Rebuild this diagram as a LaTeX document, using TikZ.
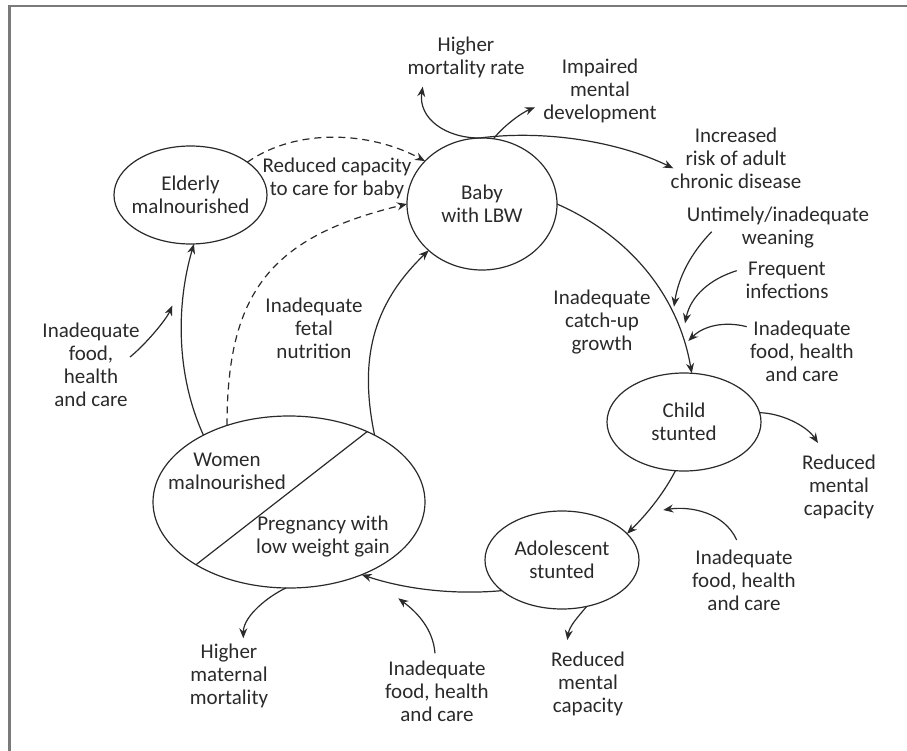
\documentclass[tikz,border=0pt]{standalone}
\usepackage{fontspec}
\setmainfont{Carlito}
\usetikzlibrary{shapes.geometric,arrows.meta}
\definecolor{ink}{HTML}{2A2A2A}
\definecolor{framegray}{HTML}{7A7A7A}
\begin{document}
\begin{tikzpicture}[x=1pt,y=-1pt,
  ell/.style={draw=ink, line width=1.2pt, ellipse, inner sep=0pt, outer sep=0pt},
  txt/.style={text=ink, align=center, font=\fontsize{21}{23}\selectfont, inner sep=0pt},
  con/.style={draw=ink, line width=1.2pt, -{Stealth[length=10pt,width=8pt]}},
  dsh/.style={con, dash pattern=on 7pt off 5pt}]
\useasboundingbox (0,0) rectangle (907,751);
\draw[framegray, line width=2.2pt] (9.5,751) -- (9.5,6) -- (907,6);

% ellipses
\node[ell, minimum width=153pt, minimum height=98pt] (E) at (190.5,195) {};
\node[txt] (Et) at (190.5,195) {Elderly\\malnourished};
\node[ell, minimum width=150pt, minimum height=132pt] (B) at (482,204) {};
\node[txt] (Bt) at (482,204) {Baby\\with LBW};
\node[ell, minimum width=154pt, minimum height=98pt] (C) at (684,422) {};
\node[txt] (Ct) at (684,421.5) {Child\\stunted};
\node[ell, minimum width=154pt, minimum height=98pt] (A) at (562,560) {};
\node[txt] (At) at (562,559.5) {Adolescent\\stunted};
\node[ell, minimum width=272pt, minimum height=172pt] (W) at (289,502) {};
\node[txt] (Wt1) at (227,471.5) {Women\\malnourished};
\node[txt] (Wt2) at (323,536.5) {Pregnancy with\\low weight gain};
\draw[ink, line width=1.2pt] (W.214) -- (W.42);

% labels
\node[txt] (hm) at (466,57) {Higher\\mortality rate};
\node[txt] (imd) at (600,91) {Impaired\\mental\\development};
\node[txt] (ir) at (736,158.5) {Increased\\risk of adult\\chronic disease};
\node[txt] (uw) at (778,228) {Untimely/inadequate\\weaning};
\node[txt] (fi) at (787,280) {Frequent\\infections};
\node[txt] (if1) at (802,351) {Inadequate\\food, health\\and care};
\node[txt] (cu) at (602,322) {Inadequate\\catch-up\\growth};
\node[txt] (rc) at (337,178) {Reduced capacity\\to care for baby};
\node[txt] (fn) at (314,328.5) {Inadequate\\fetal\\nutrition};
\node[txt] (if2) at (91,365) {Inadequate\\food,\\health\\and care};
\node[txt] (rm1) at (839,487) {Reduced\\mental\\capacity};
\node[txt] (if3) at (744,580) {Inadequate\\food, health\\and care};
\node[txt] (hmm) at (229,676) {Higher\\maternal\\mortality};
\node[txt] (if4) at (437,691) {Inadequate\\food, health\\and care};
\node[txt] (rm2) at (588,684) {Reduced\\mental\\capacity};

% free ends
\coordinate (hmT) at (422.7,86.7);
\coordinate (imT) at (535,107.3);
\coordinate (irT) at (673.3,168.3);
\coordinate (uwS) at (711.7,231.7); \coordinate (uwT) at (674,306.7);
\coordinate (fiS) at (736.7,270.7); \coordinate (fiT) at (685,323.3);
\coordinate (if1S) at (746.7,326.7); \coordinate (if1T) at (688.3,341);
\coordinate (if2S) at (130,357); \coordinate (if2T) at (172.3,305.6);
\coordinate (rm1T) at (818,443);
\coordinate (if3S) at (736.7,540); \coordinate (if3T) at (663.3,510);
\coordinate (if4S) at (435,653.3); \coordinate (if4T) at (398.3,598.3);
\coordinate (rm2T) at (567.3,640);
\coordinate (hmmT) at (243.3,638.3);

% connectors
\draw[con] (W.142) .. controls (176,375) and (176,305) .. (E.-86);
\draw[dsh] (W.129) .. controls (227,292) and (271,236.6) .. (B.180);
\draw[dsh] (E.30) .. controls (296,128) and (369,131) .. (B.143);
\draw[con] (W.38) .. controls (359,360) and (372,305) .. (B.221);
\draw[con] (B.0) .. controls (632,237) and (679,298) .. (C.81);
\draw[con] (B.92) .. controls (445,138) and (418,118) .. (hmT);
\draw[con] (B.92) .. controls (540,130) and (615,140) .. (irT);
\draw[con] (B.80) .. controls (502.5,127) and (521,113) .. (imT);
\draw[con] (uwS) .. controls (691,253) and (678.5,277) .. (uwT);
\draw[con] (fiS) .. controls (710,279) and (690.6,296) .. (fiT);
\draw[con] (if1S) .. controls (725,321) and (703.7,325.6) .. (if1T);
\draw[con] (if2S) .. controls (145,345) and (166,320) .. (if2T);
\draw[con] (C.7) .. controls (780,413) and (806,425) .. (rm1T);
\draw[con] (C.-100) .. controls (663,495) and (645,516) .. (A.22);
\draw[con] (if3S) .. controls (724,512) and (690,506) .. (if3T);
\draw[con] (A.207) .. controls (455,595) and (405.5,589.4) .. (W.-45);
\draw[con] (if4S) .. controls (433,628) and (416,611.5) .. (if4T);
\draw[con] (A.-62) .. controls (577,618) and (569.5,626) .. (rm2T);
\draw[con] (W.-92) .. controls (268.7,595.9) and (243.3,616) .. (hmmT);
\end{tikzpicture}
\end{document}
